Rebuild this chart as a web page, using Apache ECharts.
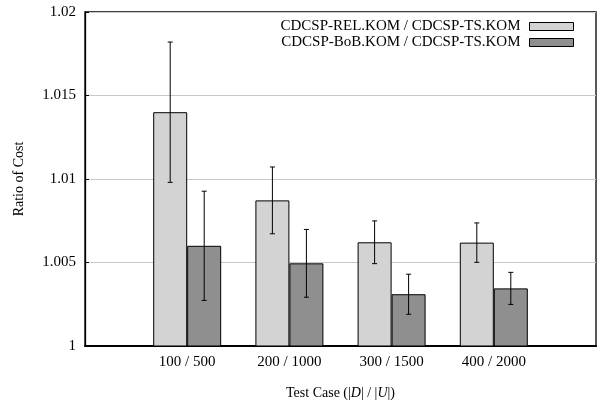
<!DOCTYPE html>
<html>
<head>
<meta charset="utf-8">
<script src="https://cdn.jsdelivr.net/npm/echarts@6/dist/echarts.min.js"></script>
<style>html,body{margin:0;padding:0;background:#fff}#c{width:601px;height:408px}</style>
</head>
<body>
<div id="c"></div>
<script>
var categories = ['100 / 500', '200 / 1000', '300 / 1500', '400 / 2000'];
var seriesNames = ['CDCSP-REL.KOM / CDCSP-TS.KOM', 'CDCSP-BoB.KOM / CDCSP-TS.KOM'];
var relValues = [1.0140, 1.00872, 1.00621, 1.00619];
var relErr = [0.0042, 0.0020, 0.00128, 0.00118];
var bobValues = [1.0060, 1.00495, 1.0031, 1.00345];
var bobErr = [0.00327, 0.00203, 0.0012, 0.00096];
var yTicks = [1, 1.005, 1.01, 1.015, 1.02];

var FONT = '"Liberation Serif", "DejaVu Serif", serif';
var BAR_W = 34;

function barData(vals) {
  return vals.map(function (v, i) { return [i, v]; });
}
function errData(vals, errs) {
  return vals.map(function (v, i) { return [i, v - errs[i], v + errs[i]]; });
}
function errRender(offset) {
  return function (params, api) {
    var x = api.value(0);
    var lo = api.coord([x, api.value(1)]);
    var hi = api.coord([x, api.value(2)]);
    var cx = lo[0] + offset;
    var cap = 2.5;
    var st = { stroke: '#000', lineWidth: 1 };
    return {
      type: 'group',
      children: [
        { type: 'line', shape: { x1: cx, y1: hi[1], x2: cx, y2: lo[1] }, style: st },
        { type: 'line', shape: { x1: cx - cap, y1: hi[1], x2: cx + cap, y2: hi[1] }, style: st },
        { type: 'line', shape: { x1: cx - cap, y1: lo[1], x2: cx + cap, y2: lo[1] }, style: st }
      ]
    };
  };
}

var chart = echarts.init(document.getElementById('c'), null, { renderer: 'canvas' });
chart.setOption({
  animation: false,
  backgroundColor: '#fff',
  textStyle: { fontFamily: FONT },
  grid: { left: 85, right: 5, top: 12, bottom: 62, show: true, borderColor: '#000', borderWidth: 1.3, backgroundColor: 'transparent' },
  legend: {
    right: 22, top: 14, orient: 'vertical', align: 'right',
    itemWidth: 44, itemHeight: 8, itemGap: 1,
    icon: 'rect',
    textStyle: { fontFamily: FONT, fontSize: 15, color: '#000', lineHeight: 14, padding: [0, 4, 0, 0] },
    data: [
      { name: seriesNames[0], itemStyle: { color: '#d3d3d3', borderColor: '#000', borderWidth: 1 } },
      { name: seriesNames[1], itemStyle: { color: '#8f8f8f', borderColor: '#000', borderWidth: 1 } }
    ]
  },
  xAxis: {
    type: 'value', min: -1, max: 4, interval: 1,
    axisLine: { show: true, onZero: false, lineStyle: { color: '#000', width: 2 } },
    axisTick: { show: false },
    splitLine: { show: false },
    axisLabel: {
      fontFamily: FONT, fontSize: 15, color: '#000', margin: 9,
      formatter: function (v) { return categories[Math.round(v)] || ''; }
    },
    name: '{n|Test Case (|}{i|D}{n|| / |}{i|U}{n||)}',
    nameLocation: 'middle', nameGap: 40,
    nameTextStyle: {
      rich: {
        n: { fontFamily: FONT, fontSize: 14, color: '#000' },
        i: { fontFamily: FONT, fontSize: 14, color: '#000', fontStyle: 'italic' }
      }
    }
  },
  yAxis: {
    type: 'value', min: 1, max: 1.02, interval: 0.005,
    axisLine: { show: true, onZero: false, lineStyle: { color: '#000', width: 1.3 } },
    axisTick: { show: true, inside: true, length: 4, lineStyle: { color: '#000' } },
    splitLine: { show: true, lineStyle: { color: '#c8c8c8', width: 1 } },
    axisLabel: {
      fontFamily: FONT, fontSize: 15, color: '#000', margin: 9,
      formatter: function (v) {
        var best = yTicks.reduce(function (a, b) { return Math.abs(b - v) < Math.abs(a - v) ? b : a; });
        return String(best);
      }
    },
    name: 'Ratio of Cost', nameLocation: 'middle', nameGap: 59, nameRotate: 90,
    nameTextStyle: { fontFamily: FONT, fontSize: 14, color: '#000' }
  },
  series: [
    { name: seriesNames[0], type: 'bar', data: barData(relValues), barWidth: BAR_W, barGap: '0%',
      itemStyle: { color: '#d3d3d3', borderColor: '#000', borderWidth: 1 }, z: 2 },
    { name: seriesNames[1], type: 'bar', data: barData(bobValues), barWidth: BAR_W, barGap: '0%',
      itemStyle: { color: '#8f8f8f', borderColor: '#000', borderWidth: 1 }, z: 2 },
    { type: 'custom', data: errData(relValues, relErr), renderItem: errRender(-BAR_W / 2), z: 5, silent: true },
    { type: 'custom', data: errData(bobValues, bobErr), renderItem: errRender(BAR_W / 2), z: 5, silent: true }
  ]
});
</script>
</body>
</html>
